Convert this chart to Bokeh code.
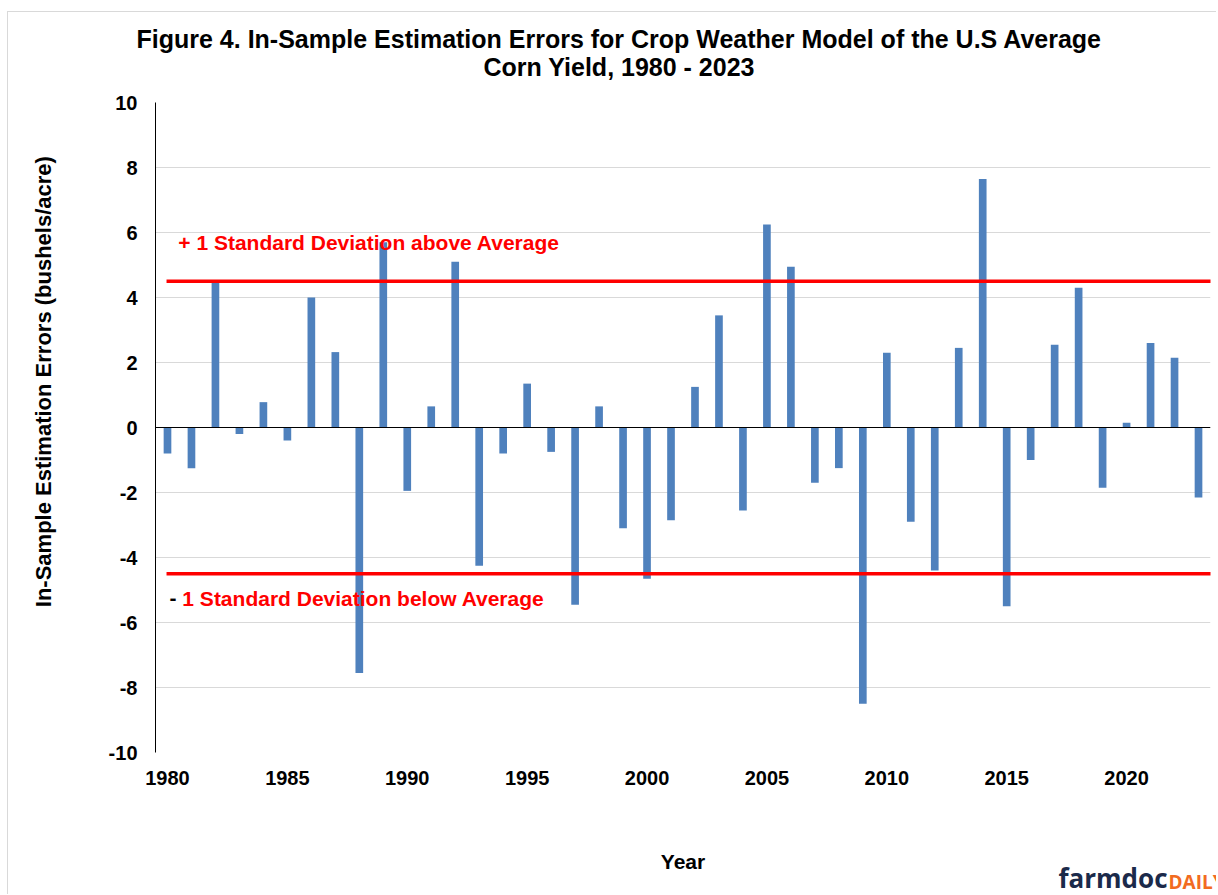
from bokeh.plotting import figure
from bokeh.models import Label, Span, FixedTicker, ColumnDataSource, Range1d, Title, PrintfTickFormatter
from bokeh.embed import file_html
from bokeh.resources import INLINE

years = list(range(1980, 2024))
errors = [-0.8, -1.25, 4.47, -0.2, 0.78, -0.4, 4.0, 2.32, -7.55, 5.7,
          -1.95, 0.65, 5.1, -4.25, -0.8, 1.35, -0.75, -5.45, 0.65, -3.1,
          -4.65, -2.85, 1.25, 3.45, -2.55, 6.25, 4.95, -1.7, -1.25, -8.5,
          2.3, -2.9, -4.4, 2.45, 7.65, -5.5, -1.0, 2.55, 4.3, -1.85,
          0.15, 2.6, 2.15, -2.15]
sd_upper = 4.5
sd_lower = -4.5
x_ticks = [1980, 1985, 1990, 1995, 2000, 2005, 2010, 2015, 2020]
y_ticks = [-10, -8, -6, -4, -2, 0, 2, 4, 6, 8, 10]
title_1 = "Figure 4. In-Sample Estimation Errors for Crop Weather Model of the U.S Average"
title_2 = "Corn Yield, 1980 - 2023"
y_title = "In-Sample Estimation Errors (bushels/acre)"

FONT = "Liberation Sans"

p = figure(width=1209, height=883, output_backend="svg", toolbar_location=None,
           x_range=Range1d(1979.5, 2023.5), y_range=Range1d(-10, 10),
           min_border_left=147, min_border_right=7, min_border_top=90, min_border_bottom=143,
           styles={"border-left": "1px solid #d9d9d9", "border-top": "1px solid #d9d9d9",
                   "margin-left": "7px", "margin-top": "11px"})
p.outline_line_color = None
p.background_fill_color = "white"
p.border_fill_color = "white"

# titles (line 2 nearest the plot, added first)
p.add_layout(Title(text=title_2, text_font=FONT, text_font_style="bold", text_font_size="25px",
                   text_color="black", align="left", offset=328, standoff=43), "above")
p.add_layout(Title(text=title_1, text_font=FONT, text_font_style="bold", text_font_size="25px",
                   text_color="black", align="left", offset=-19, standoff=-46), "above")

src = ColumnDataSource(dict(x=years, top=errors))
p.vbar(x="x", top="top", bottom=0, width=0.32, source=src,
       fill_color="#4F81BD", line_color=None)

# zero line
p.add_layout(Span(location=0, dimension="width", line_color="black", line_width=1))

# SD lines
p.segment(x0=[1979.96, 1979.96], y0=[sd_upper, sd_lower], x1=[2023.7, 2023.7],
          y1=[sd_upper, sd_lower], line_color="#FF0000", line_width=3.5)

# grid
p.xgrid.visible = False
p.ygrid.ticker = FixedTicker(ticks=y_ticks)
p.ygrid.grid_line_color = "#D9D9D9"
p.ygrid.grid_line_width = 1

# axes
p.xaxis.ticker = FixedTicker(ticks=x_ticks)
p.yaxis.ticker = FixedTicker(ticks=y_ticks)
p.xaxis.formatter = PrintfTickFormatter(format="%d")
p.yaxis.formatter = PrintfTickFormatter(format="%d")
for ax in (p.xaxis[0], p.yaxis[0]):
    ax.major_tick_out = 0
    ax.major_tick_in = 0
    ax.minor_tick_out = 0
    ax.minor_tick_in = 0
    ax.major_label_text_font = FONT
    ax.major_label_text_font_style = "bold"
    ax.major_label_text_font_size = "20px"
    ax.major_label_text_color = "black"
    ax.axis_label_text_font = FONT
    ax.axis_label_text_font_style = "bold"
    ax.axis_label_text_color = "black"
p.xaxis.axis_line_color = None
p.xaxis.major_label_standoff = 18
p.xaxis.axis_label = "Year"
p.xaxis.axis_label_text_font_size = "21px"
p.xaxis.axis_label_standoff = 62
p.yaxis.axis_line_color = "black"
p.yaxis.axis_line_width = 1
p.yaxis.major_label_standoff = 18
# leading no-break spaces lift the (centred) title up the axis, as in the original
p.yaxis.axis_label = "\u00a0" * 15 + y_title
p.yaxis.axis_label_text_font_size = "22px"
p.yaxis.axis_label_standoff = 50

# annotations
p.add_layout(Label(x=1980.45, y=5.7, text="+ 1 Standard Deviation above Average",
                   text_font=FONT, text_font_style="bold", text_font_size="21px",
                   text_color="#FF0000", text_align="left", text_baseline="middle"))
p.add_layout(Label(x=1980.08, y=-5.25, text="-",
                   text_font=FONT, text_font_style="bold", text_font_size="21px",
                   text_color="black", text_align="left", text_baseline="middle"))
p.add_layout(Label(x=1980.62, y=-5.25, text="1 Standard Deviation below Average",
                   text_font=FONT, text_font_style="bold", text_font_size="21px",
                   text_color="#FF0000", text_align="left", text_baseline="middle"))

# logo, as titles in the bottom panel
p.add_layout(Title(text="farmdoc", text_font="Open Sans", text_font_style="bold",
                   text_font_size="26px", text_color="#1B2A4A", align="left",
                   offset=903, standoff=-36), "below")
p.add_layout(Title(text="DAILY", text_font="Open Sans", text_font_style="bold",
                   text_font_size="19px", text_color="#F26B21", align="left",
                   offset=1013, standoff=-22), "below")

open("out.html", "w").write(file_html(p, INLINE))
